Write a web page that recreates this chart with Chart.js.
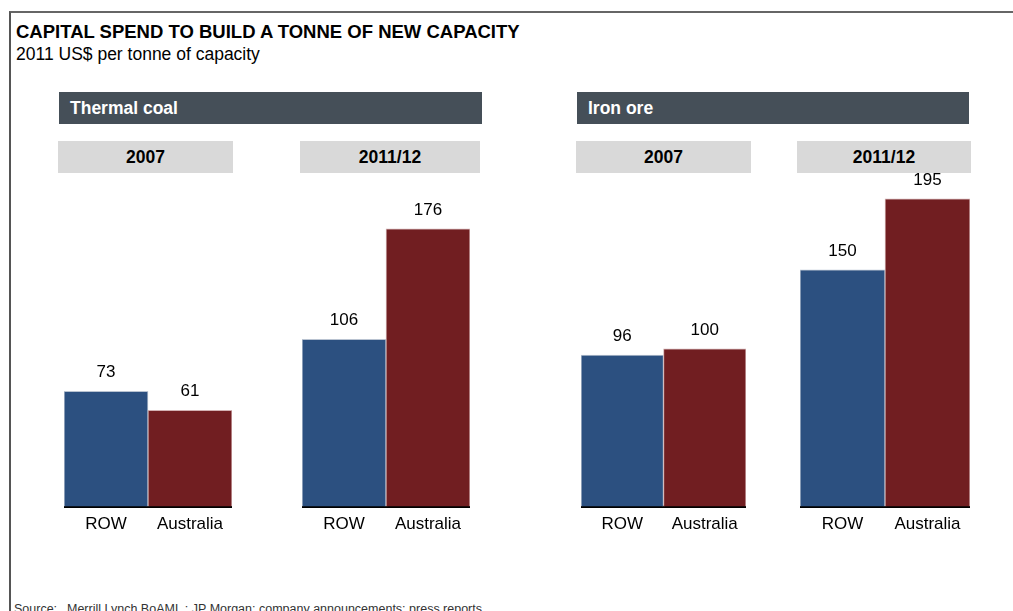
<!DOCTYPE html>
<html>
<head>
<meta charset="utf-8">
<script src="https://cdn.jsdelivr.net/npm/chart.js@4.4.1/dist/chart.umd.min.js"></script>
<style>
  html, body { margin: 0; padding: 0; background: #fff; overflow: hidden; }
  body { width: 1013px; height: 611px; position: relative; font-family: Arial, "Liberation Sans", sans-serif; color: #000; }
  .frame { position: absolute; left: 9px; top: 11px; right: -4px; bottom: -4px; border-left: 2px solid #555; border-top: 2px solid #666; }
  .title { position: absolute; left: 16px; top: 21px; font-size: 18.5px; font-weight: bold; white-space: nowrap; }
  .subtitle { position: absolute; left: 16px; top: 44px; font-size: 17.5px; white-space: nowrap; }
  .head { position: absolute; top: 92px; height: 32px; background: #454f58; color: #fff; font-weight: bold; font-size: 17.5px; line-height: 32px; padding-left: 11px; box-sizing: border-box; }
  .sub { position: absolute; top: 141px; height: 32px; background: #d9d9d9; font-weight: bold; font-size: 17.5px; line-height: 32px; text-align: center; }
  .panel { position: absolute; top: 161px; height: 382px; }
  .source { position: absolute; left: 14px; top: 602px; font-size: 12.5px; color: #333; white-space: nowrap; }
  .source span { display: inline-block; width: 53px; }
</style>
</head>
<body>
<div class="frame"></div>
<div class="title">CAPITAL SPEND TO BUILD A TONNE OF NEW CAPACITY</div>
<div class="subtitle">2011 US$ per tonne of capacity</div>

<div class="head" style="left:59px; width:423px;">Thermal coal</div>
<div class="head" style="left:577px; width:392px;">Iron ore</div>

<div class="sub" style="left:58px; width:175px;">2007</div>
<div class="sub" style="left:300px; width:180px;">2011/12</div>
<div class="sub" style="left:576px; width:175px;">2007</div>
<div class="sub" style="left:797px; width:174px;">2011/12</div>

<div class="panel" style="left:64px; width:168px;"><canvas id="coal2007"></canvas></div>
<div class="panel" style="left:302px; width:168px;"><canvas id="coal2011"></canvas></div>
<div class="panel" style="left:581px; width:165px;"><canvas id="iron2007"></canvas></div>
<div class="panel" style="left:800px; width:170px;"><canvas id="iron2011"></canvas></div>

<div class="source"><span>Source:</span>Merrill Lynch BoAML ; JP Morgan; company announcements; press reports</div>

<script>
const categories = ['ROW', 'Australia'];
const coal2007 = [73, 61];
const coal2011 = [106, 176];
const iron2007 = [96, 100];
const iron2011 = [150, 195];

const barColors = ['#2c5080', '#711e21'];
const edgeColors = ['#b9c3d1', '#d2b1b2'];

// numbers above each bar
const valueLabels = {
	id: 'valueLabels',
	afterDatasetsDraw(chart) {
		const ctx = chart.ctx;
		const meta = chart.getDatasetMeta(0);
		const values = chart.data.datasets[0].data;
		ctx.save();
		ctx.font = '17px Arial, "Liberation Sans", sans-serif';
		ctx.fillStyle = '#000';
		ctx.textAlign = 'center';
		ctx.textBaseline = 'alphabetic';
		meta.data.forEach(function (bar, i) {
			ctx.fillText(String(values[i]), bar.x, bar.y - 14);
		});
		ctx.restore();
	}
};

function drawPanel(id, values) {
	const config = {
		type: 'bar',
		plugins: [valueLabels],
		data: {
			labels: categories,
			datasets: [{
				data: values,
				backgroundColor: barColors,
				borderColor: edgeColors,
				borderWidth: 1,
				borderSkipped: 'bottom',
				barPercentage: 1,
				categoryPercentage: 1
			}]
		},
		options: {
			responsive: true,
			maintainAspectRatio: false,
			animation: false,
			layout: { padding: { top: 30, left: 0, right: 0, bottom: 0 } },
			plugins: {
				legend: { display: false },
				tooltip: { enabled: false }
			},
			scales: {
				x: {
					grid: { display: false, drawTicks: false },
					border: { display: true, color: '#000', width: 3 },
					ticks: {
						color: '#000',
						padding: 8,
						font: { family: 'Arial, "Liberation Sans", sans-serif', size: 17 }
					}
				},
				y: {
					display: false,
					min: 0,
					max: 200
				}
			}
		}
	};
	return new Chart(document.getElementById(id).getContext('2d'), config);
}

drawPanel('coal2007', coal2007);
drawPanel('coal2011', coal2011);
drawPanel('iron2007', iron2007);
drawPanel('iron2011', iron2011);
</script>
</body>
</html>
